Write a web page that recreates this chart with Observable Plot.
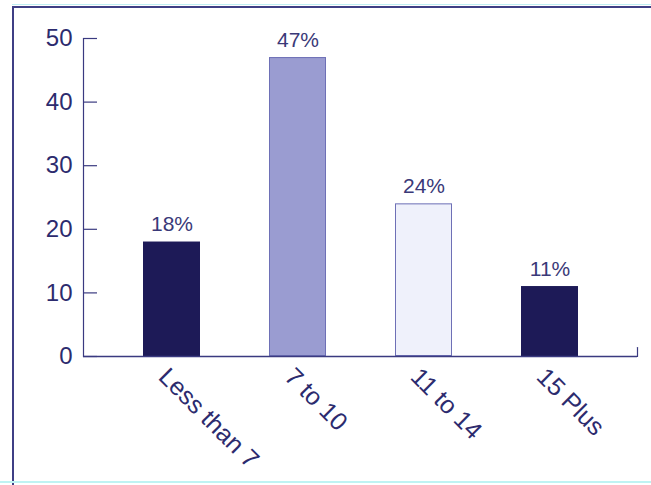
<!DOCTYPE html>
<html>
<head>
<meta charset="utf-8">
<script src="https://cdn.jsdelivr.net/npm/d3@7"></script>
<script src="https://cdn.jsdelivr.net/npm/@observablehq/plot@0.6"></script>
<style>
  html, body { margin: 0; padding: 0; background: #ffffff; }
  #wrap { position: relative; width: 651px; height: 485px; overflow: hidden; }
  #wrap svg { position: absolute; left: 0; top: 0; }
  .deco { position: absolute; }
</style>
</head>
<body>
<div id="wrap">
  <div class="deco" style="left:12px;top:4px;width:639px;height:1px;background:#bfeff2;"></div>
  <div class="deco" style="left:12px;top:6px;width:639px;height:2px;background:#3f3f85;"></div>
  <div class="deco" style="left:12px;top:6px;width:2px;height:479px;background:#3f3f85;"></div>
  <div class="deco" style="left:0px;top:481px;width:651px;height:2px;background:#bff3f3;"></div>
</div>
<script>
const categories = ["Less than 7", "7 to 10", "11 to 14", "15 Plus"];
const values = [18, 47, 24, 11];
const yTicks = [0, 10, 20, 30, 40, 50];

const data = categories.map((c, i) => ({cat: c, value: values[i]}));
const navy = "#2c2b6e";
const outlined = new Set([categories[1], categories[2]]);

const chart = Plot.plot({
  width: 651,
  height: 485,
  marginLeft: 83,
  marginRight: 14,
  marginTop: 38,
  marginBottom: 129,
  style: {fontFamily: "'Liberation Sans', Arial, sans-serif", background: "transparent", overflow: "visible"},
  x: {domain: categories, paddingInner: 0.551, paddingOuter: 0.457, label: null},
  y: {domain: [0, 50], label: null},
  color: {domain: categories, range: ["#1d1a57", "#9a9cd1", "#eff1fb", "#1d1a57"]},
  marks: [
    Plot.barY(data, {x: "cat", y: "value", fill: "cat"}),
    Plot.barY(data, {x: "cat", y: "value", fill: "none", stroke: "#6e70b6", strokeWidth: 1, inset: 0.5,
      filter: d => outlined.has(d.cat)}),
    Plot.ruleY([0], {stroke: "#3a3a80", strokeWidth: 1.5}),
    Plot.frame({anchor: "left", stroke: "#3a3a80", strokeWidth: 1.2}),
    Plot.vector([0], {y: d => d, frameAnchor: "right", length: 9, rotate: 0, anchor: "start",
      stroke: "#3a3a80", strokeWidth: 1.2,
      shape: {draw(ctx, l) { ctx.moveTo(0, 0); ctx.lineTo(0, -l); }}}),
    Plot.axisY({ticks: yTicks, tickSize: 0, tickPadding: 11, fontSize: 24, fill: navy, label: null}),
    Plot.axisY({ticks: yTicks, tickSize: -14, tickFormat: () => "", stroke: "#3a3a80", strokeWidth: 1.2, label: null}),
    Plot.axisX({tickSize: 0, tickPadding: 16, tickRotate: 45, dx: -9, fontSize: 25, fill: navy, label: null}),
    Plot.text(data, {x: "cat", y: "value", text: d => d.value + "%", dy: -11, lineAnchor: "bottom",
      fontSize: 21, fill: "#3a3978"})
  ]
});
document.getElementById("wrap").prepend(chart);
</script>
</body>
</html>
